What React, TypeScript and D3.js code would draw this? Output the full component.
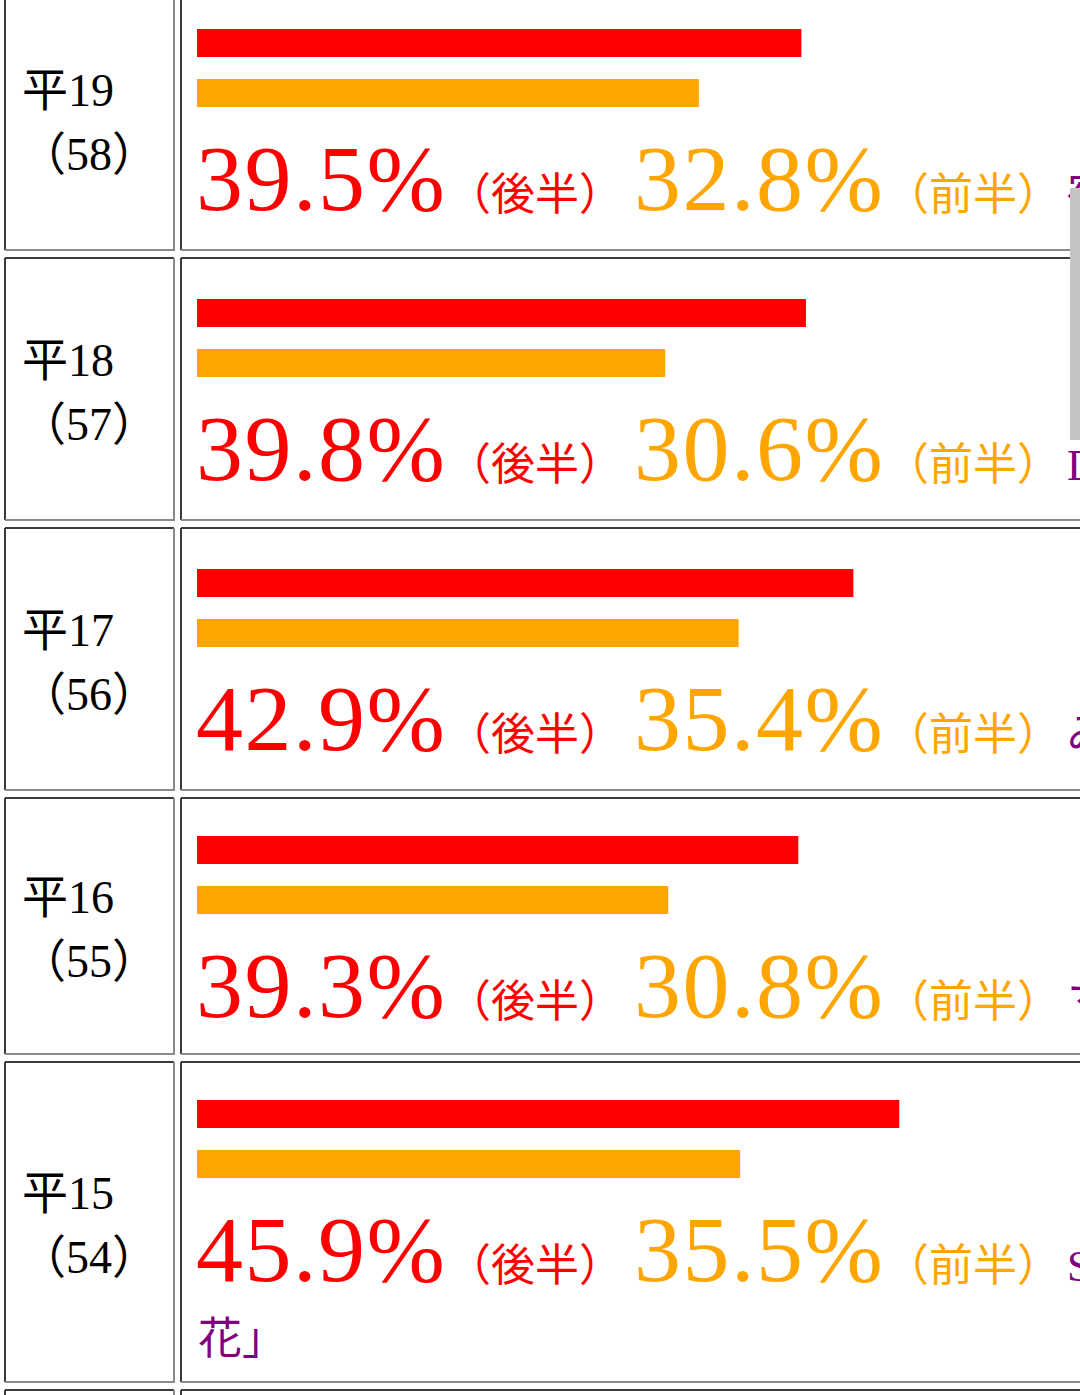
import React from "react";
import * as d3 from "d3";

// ---- data ----
const eraLabels = ["平19", "平18", "平17", "平16", "平15"];
const editionLabels = ["（58）", "（57）", "（56）", "（55）", "（54）"];
const latterHalf = [39.5, 39.8, 42.9, 39.3, 45.9]; // 後半
const formerHalf = [32.8, 30.6, 35.4, 30.8, 35.5]; // 前半
const titleLines: string[][] = [
  ["宿命の歌"],
  ["DJ OZMA"],
  ["みのもんた"],
  ["マツケンサンバII"],
  ["SMAP「世界に一つだけの", "花」"],
];

// ---- layout ----
const W = 1080;
const H = 1395;
const rowHeights = [262, 262, 262, 256, 320];
const firstTop = -12;
const rowGap = 8;
const leftX0 = 5;
const leftX1 = 174;
const rightX0 = 181;
const barX0 = 197;
const barH = 28;
const barGap = 50;
const contentBase = 180;
const extraLineH = 64;
const bigFont = 94;
const smallFont = 44;
const labelFont = 46;
const RED = "#ff0000";
const ORANGE = "#ffa500";
const PURPLE = "#800080";
const DARK = "#3a3a3a";
const LIGHT = "#8a8a8a";
const FONT = "'Liberation Serif', 'Noto Sans CJK JP', serif";

export default function App() {
  const x = d3.scaleLinear().domain([0, 100]).range([barX0, barX0 + 1530]);

  const tops: number[] = [];
  let t = firstTop;
  rowHeights.forEach((h) => {
    tops.push(t);
    t += h + rowGap;
  });
  const nextTop = t;

  return (
    <div style={{ position: "absolute", left: 0, top: 0, width: W, height: H, overflow: "hidden", background: "#fff" }}>
      <svg width={W} height={H} viewBox={`0 0 ${W} ${H}`} style={{ display: "block" }}>
        <rect x={0} y={0} width={W} height={H} fill="#fff" />
        {eraLabels.map((era, i) => {
          const top = tops[i];
          const h = rowHeights[i];
          const bottom = top + h;
          const lines = titleLines[i];
          const content = contentBase + extraLineH * (lines.length - 1);
          const pad = (h - content) / 2;
          const redY = top + pad;
          const orangeY = redY + barGap;
          const baseY = redY + 181;
          const center = top + h / 2;
          return (
            <g key={era}>
              {/* left cell borders */}
              <line x1={leftX0} x2={leftX1} y1={top} y2={top} stroke={DARK} strokeWidth={2} />
              <line x1={leftX0} x2={leftX0} y1={top} y2={bottom} stroke={DARK} strokeWidth={2} />
              <line x1={leftX0} x2={leftX1 + 1} y1={bottom} y2={bottom} stroke={LIGHT} strokeWidth={2} />
              <line x1={leftX1} x2={leftX1} y1={top} y2={bottom} stroke={LIGHT} strokeWidth={2} />
              {/* right cell borders */}
              <line x1={rightX0} x2={W + 10} y1={top} y2={top} stroke={DARK} strokeWidth={2} />
              <line x1={rightX0} x2={rightX0} y1={top} y2={bottom} stroke={DARK} strokeWidth={2} />
              <line x1={rightX0} x2={W + 10} y1={bottom} y2={bottom} stroke={LIGHT} strokeWidth={2} />

              {/* left labels */}
              <text x={22} y={center - 13} fontFamily={FONT} fontSize={labelFont} fill="#000">{era}</text>
              <text x={20} y={center + 51} fontFamily={FONT} fontSize={labelFont} fill="#000">{editionLabels[i]}</text>

              {/* bars */}
              <rect x={x(0)} y={redY} width={x(latterHalf[i]) - x(0)} height={barH} fill={RED} />
              <rect x={x(0)} y={orangeY} width={x(formerHalf[i]) - x(0)} height={barH} fill={ORANGE} />

              {/* values */}
              <text x={196} y={baseY} fontFamily={FONT} fontSize={bigFont} letterSpacing={1.5} fill={RED}>{latterHalf[i].toFixed(1)}%</text>
              <text x={447} y={baseY} fontFamily={FONT} fontSize={smallFont} fill={RED}>（後半）</text>
              <text x={634} y={baseY} fontFamily={FONT} fontSize={bigFont} letterSpacing={1.5} fill={ORANGE}>{formerHalf[i].toFixed(1)}%</text>
              <text x={885} y={baseY} fontFamily={FONT} fontSize={smallFont} fill={ORANGE}>（前半）</text>
              {lines.map((ln, k) => (
                <text key={k} x={k === 0 ? 1067 : 198} y={baseY + 73 * k} fontFamily={FONT} fontSize={smallFont} fill={PURPLE}>{ln}</text>
              ))}
            </g>
          );
        })}
        {/* next row top edge */}
        <line x1={leftX0} x2={leftX1} y1={nextTop} y2={nextTop} stroke={DARK} strokeWidth={2} />
        <line x1={leftX0} x2={leftX0} y1={nextTop} y2={H + 5} stroke={DARK} strokeWidth={2} />
        <line x1={leftX1} x2={leftX1} y1={nextTop} y2={H + 5} stroke={LIGHT} strokeWidth={2} />
        <line x1={rightX0} x2={W + 10} y1={nextTop} y2={nextTop} stroke={DARK} strokeWidth={2} />
        <line x1={rightX0} x2={rightX0} y1={nextTop} y2={H + 5} stroke={DARK} strokeWidth={2} />
        {/* scrollbar overlay */}
        <rect x={1070} y={188} width={10} height={252} fill="#c4c4c4" />
      </svg>
    </div>
  );
}
